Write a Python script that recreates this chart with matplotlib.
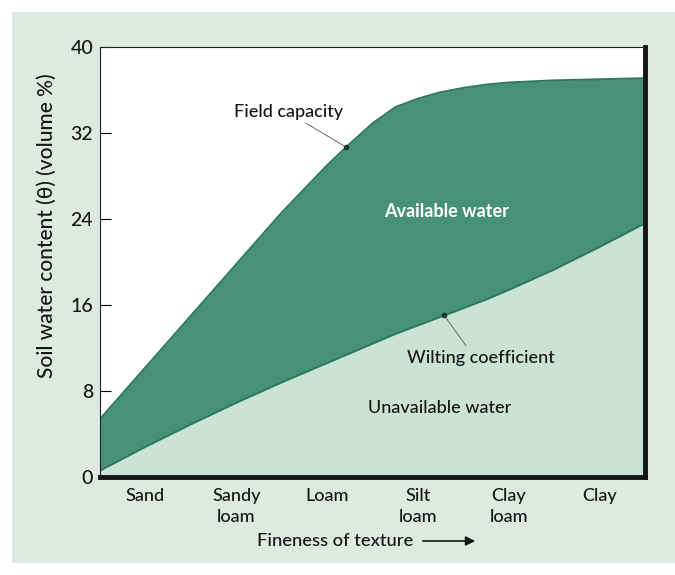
import numpy as np
import matplotlib
matplotlib.use("Agg")
import matplotlib.pyplot as plt
from matplotlib.patches import FancyArrowPatch

plt.rcParams['font.family'] = ['Lato', 'DejaVu Sans']

# soil textures along the x axis
textures = ["Sand", "Sandy\nloam", "Loam", "Silt\nloam", "Clay\nloam", "Clay"]
# positions (category units, edges of the frame included)
xpos = [-0.5, 0, 0.5, 1, 1.5, 2, 2.25, 2.5, 2.75, 3, 3.25, 3.5, 3.75, 4, 4.5, 5, 5.5]
field_capacity = [5.4, 10.2, 15.0, 19.8, 24.6, 29.0, 31.0, 32.9, 34.4, 35.2, 35.8,
                  36.2, 36.5, 36.7, 36.9, 37.0, 37.1]
wilting_coef = [0.6, 2.8, 4.9, 6.9, 8.8, 10.6, 11.5, 12.4, 13.3, 14.1, 14.9,
                15.7, 16.5, 17.4, 19.3, 21.4, 23.6]
yticks = [0, 8, 16, 24, 32, 40]

paper = "#dde9e1"
dark_green = "#47917a"
light_green = "#cbe2d6"
line_green = "#2c7a5e"
ink = "#161616"

fig = plt.figure(figsize=(6.75, 5.75), dpi=100, facecolor="white")
# scanned page background
bg = fig.add_axes([12 / 675, 12 / 575, 663 / 675, 551 / 575], zorder=-5)
bg.set_facecolor(paper)
bg.set_xticks([])
bg.set_yticks([])
for s in bg.spines.values():
    s.set_visible(False)

ax = fig.add_axes([100 / 675, 1 - 477 / 575, 545 / 675, 430 / 575], zorder=1)
ax.set_facecolor("white")

ax.fill_between(xpos, 0, wilting_coef, color=light_green, lw=0)
ax.fill_between(xpos, wilting_coef, field_capacity, color=dark_green, lw=0)
ax.plot(xpos, field_capacity, color=line_green, lw=1.4)
ax.plot(xpos, wilting_coef, color=line_green, lw=1.4)

ax.set_xlim(-0.5, 5.5)
ax.set_ylim(0, 40)
ax.set_xticks(range(len(textures)))
ax.set_xticklabels(textures, fontsize=13, color=ink, linespacing=1.35,
                   fontweight="medium")
ax.set_yticks(yticks)
ax.set_yticklabels([str(v) for v in yticks], fontsize=14, color=ink,
                   fontweight="medium")
ax.tick_params(axis="x", length=0, pad=8)
ax.tick_params(axis="y", direction="in", length=8, width=0.8, pad=5)

for side in ["left", "top"]:
    ax.spines[side].set_linewidth(0.8)
    ax.spines[side].set_color("#222222")
for side in ["right", "bottom"]:
    ax.spines[side].set_linewidth(3.5)
    ax.spines[side].set_color("#151515")

# labels on the chart
fc_x = 2.21
fc_y = np.interp(fc_x, xpos, field_capacity)
ax.annotate("Field capacity", xy=(fc_x, fc_y), xytext=(1.58, 34.0),
            ha="center", va="center", fontsize=13, color=ink, fontweight="medium",
            arrowprops=dict(arrowstyle="-", lw=0.6, color="#555555",
                            shrinkA=1, shrinkB=0, relpos=(0.6, 0)))
ax.plot([fc_x], [fc_y], "o", color="#0d3326", ms=3)

wc_x = 3.29
wc_y = np.interp(wc_x, xpos, wilting_coef)
ax.annotate("Wilting coefficient", xy=(wc_x, wc_y), xytext=(3.69, 11.1),
            ha="center", va="center", fontsize=13, color=ink, fontweight="medium",
            arrowprops=dict(arrowstyle="-", lw=0.6, color="#555555",
                            shrinkA=1, shrinkB=0, relpos=(0.42, 1)))
ax.plot([wc_x], [wc_y], "o", color="#0d3326", ms=3)

ax.text(3.31, 24.7, "Available water", ha="center", va="center",
        fontsize=13, color="white", fontweight="bold")
ax.text(3.24, 6.4, "Unavailable water", ha="center", va="center",
        fontsize=13, color=ink, fontweight="medium")

fig.text(47 / 675, 1 - 226 / 575, "Soil water content (\u03b8) (volume %)",
         rotation=90, ha="center", va="center", fontsize=15, color=ink,
         fontweight="medium")
fig.text(335 / 675, 1 - 541 / 575, "Fineness of texture", ha="center",
         va="center", fontsize=13.2, color=ink, fontweight="medium")
fig.patches.append(FancyArrowPatch((420 / 675, 1 - 541 / 575), (478 / 675, 1 - 541 / 575),
                                   transform=fig.transFigure, arrowstyle="-|>",
                                   mutation_scale=14, lw=1.2, color=ink))

fig.savefig("out.png", dpi=100, facecolor=fig.get_facecolor())
